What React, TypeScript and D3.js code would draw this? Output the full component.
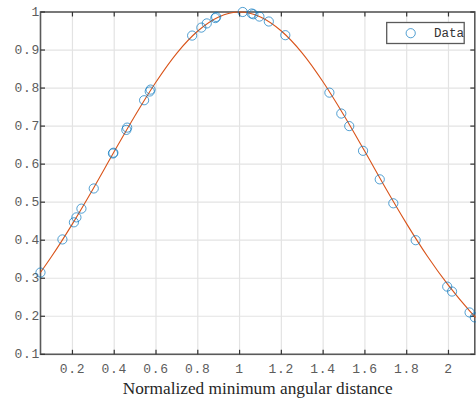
import React from "react";
import * as d3 from "d3";

const xTicks = [0.2, 0.4, 0.6, 0.8, 1, 1.2, 1.4, 1.6, 1.8, 2];
const yTicks = [0.1, 0.2, 0.3, 0.4, 0.5, 0.6, 0.7, 0.8, 0.9, 1];
const xLabel = "Normalized minimum angular distance";
const legendLabel = "Data";

const dataX = [0.047, 0.152, 0.207, 0.219, 0.243, 0.302, 0.394, 0.396, 0.458, 0.462, 0.543, 0.570, 0.574, 0.773, 0.817, 0.843, 0.884, 0.888, 1.015, 1.058, 1.066, 1.095, 1.140, 1.219, 1.430, 1.487, 1.525, 1.591, 1.671, 1.736, 1.843, 1.994, 2.017, 2.101, 2.126];
const dataY = [0.315, 0.402, 0.447, 0.460, 0.483, 0.536, 0.628, 0.630, 0.690, 0.696, 0.768, 0.791, 0.796, 0.938, 0.959, 0.970, 0.984, 0.987, 1.000, 0.996, 0.994, 0.988, 0.975, 0.939, 0.788, 0.733, 0.700, 0.635, 0.560, 0.497, 0.400, 0.278, 0.265, 0.210, 0.197];

const fitX = [0.047, 0.1, 0.2, 0.3, 0.4, 0.5, 0.6, 0.7, 0.8, 0.9, 1.0, 1.1, 1.2, 1.3, 1.4, 1.5, 1.6, 1.7, 1.8, 1.9, 2.0, 2.1, 2.13];
const fitY = [0.315, 0.357, 0.443, 0.536, 0.633, 0.728, 0.816, 0.892, 0.950, 0.987, 1.0, 0.987, 0.950, 0.892, 0.816, 0.728, 0.633, 0.536, 0.443, 0.357, 0.281, 0.215, 0.197];

const W = 476;
const H = 399;
const L = 40.5, R = 474.8, T = 12, B = 354.3;

export default function App() {
  const x = d3.scaleLinear().domain([0.0471, 2.126]).range([L, R]);
  const y = d3.scaleLinear().domain([0.1, 1]).range([B, T]);
  const line = d3
    .line<number>()
    .x((_, i) => x(fitX[i]))
    .y((d) => y(d))
    .curve(d3.curveMonotoneX);
  const axisColor = "#5a5a5a";
  const tickLen = 4.5;
  const tickFont = "'Liberation Mono', 'DejaVu Sans Mono', monospace";
  return (
    <svg
      width={W}
      height={H}
      style={{ position: "absolute", left: 0, top: 0, background: "#fff" }}
    >
      <rect x={0} y={0} width={W} height={H} fill="#fff" />
      <rect x={L} y={T} width={R - L} height={B - T} fill="#fff" />
      {xTicks.map((t) => (
        <line key={"gx" + t} x1={x(t)} x2={x(t)} y1={T} y2={B} stroke="#e3e3e3" strokeWidth={1.2} />
      ))}
      {yTicks.map((t) => (
        <line key={"gy" + t} x1={L} x2={R} y1={y(t)} y2={y(t)} stroke="#e3e3e3" strokeWidth={1.2} />
      ))}
      <rect x={L} y={T} width={R - L} height={B - T} fill="none" stroke={axisColor} strokeWidth={1.6} />
      {xTicks.map((t) => (
        <g key={"tx" + t}>
          <line x1={x(t)} x2={x(t)} y1={B} y2={B - tickLen} stroke="#333" strokeWidth={1.2} />
          <line x1={x(t)} x2={x(t)} y1={T} y2={T + tickLen} stroke="#333" strokeWidth={1.2} />
          <text
            x={x(t)}
            y={369.5}
            textAnchor="middle"
            dominantBaseline="central"
            fontFamily={tickFont}
            fontSize={13}
            letterSpacing={0.7}
            fill="#5c5c5c"
          >
            {String(t)}
          </text>
        </g>
      ))}
      {yTicks.map((t) => (
        <g key={"ty" + t}>
          <line x1={L} x2={L + tickLen} y1={y(t)} y2={y(t)} stroke="#333" strokeWidth={1.2} />
          <line x1={R} x2={R - tickLen} y1={y(t)} y2={y(t)} stroke="#333" strokeWidth={1.2} />
          <text
            x={40}
            y={y(t)}
            textAnchor="end"
            dominantBaseline="central"
            fontFamily={tickFont}
            fontSize={13}
            letterSpacing={0.7}
            fill="#5c5c5c"
          >
            {String(t)}
          </text>
        </g>
      ))}
      <path d={line(fitY) || ""} fill="none" stroke="#D95319" strokeWidth={1.1} />
      {dataY.map((v, i) => (
        <circle key={"p" + i} cx={x(dataX[i])} cy={y(v)} r={4.6} fill="none" stroke="#0072BD" strokeWidth={0.8} strokeOpacity={0.85} />
      ))}
      <rect x={386.7} y={22.5} width={77.5} height={21} fill="#fff" stroke={axisColor} strokeWidth={1.3} />
      <circle cx={410.7} cy={33.2} r={4.6} fill="none" stroke="#0072BD" strokeWidth={0.8} strokeOpacity={0.85} />
      <text x={434} y={33.5} dominantBaseline="central" fontFamily={tickFont} fontSize={12.5} fill="#333">
        {legendLabel}
      </text>
      <text
        x={(122.7 + 392.7) / 2}
        y={388}
        textAnchor="middle"
        dominantBaseline="central"
        fontFamily="'Liberation Serif', 'DejaVu Serif', serif"
        fontSize={16.5}
        fill="#262626"
        textLength={270}
        lengthAdjust="spacingAndGlyphs"
      >
        {xLabel}
      </text>
    </svg>
  );
}
